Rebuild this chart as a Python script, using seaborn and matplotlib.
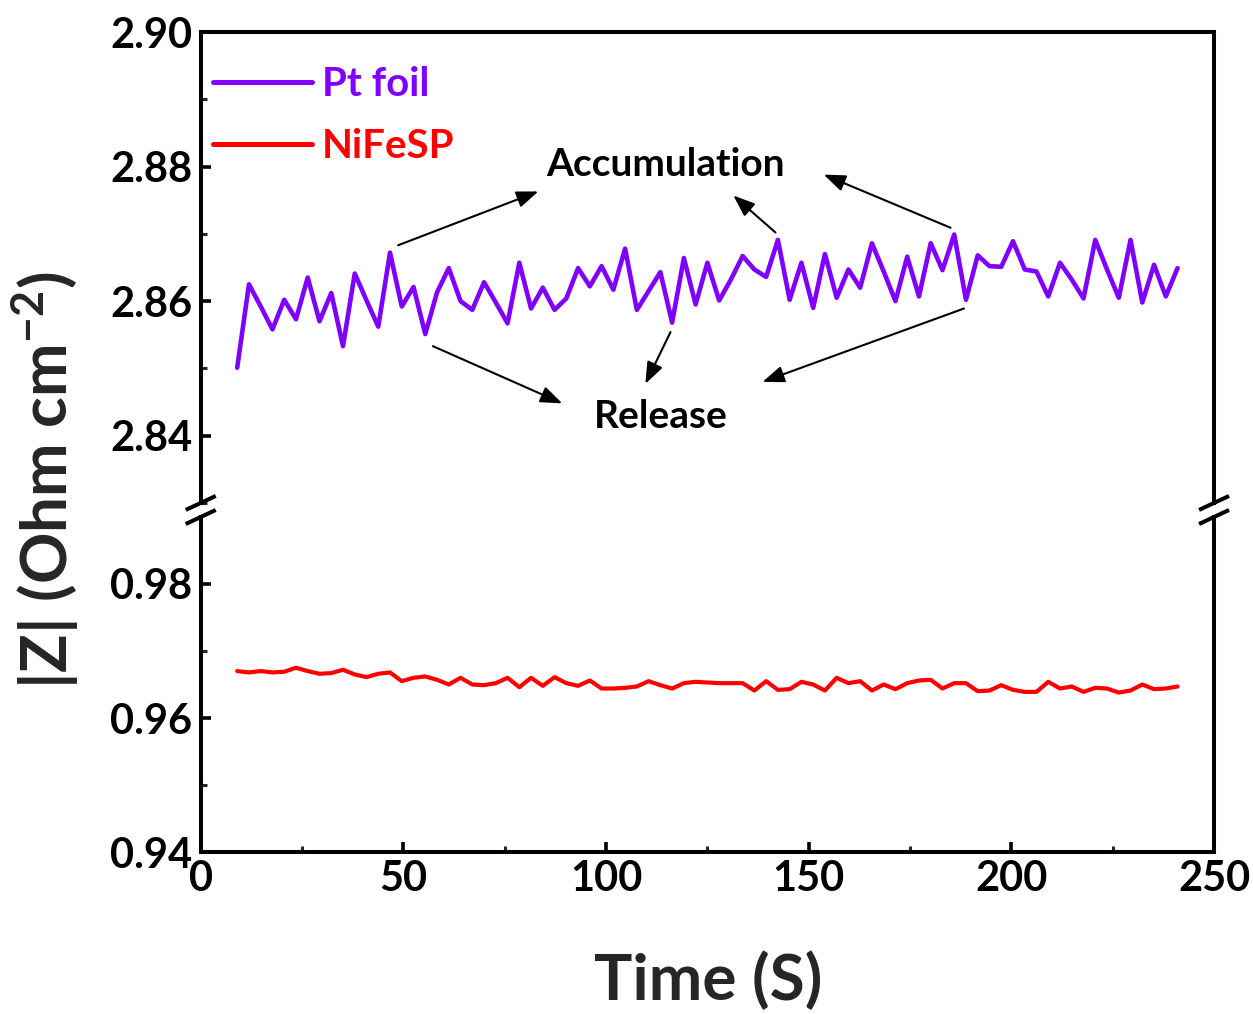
import numpy as np
import pandas as pd
import matplotlib
matplotlib.use("Agg")
import matplotlib.pyplot as plt
import seaborn as sns

# ---- data -------------------------------------------------------------
time_s = [9.0, 11.9, 14.8, 17.7, 20.6, 23.5, 26.4, 29.3, 32.2, 35.1, 38.0, 40.9,
          43.8, 46.7, 49.6, 52.5, 55.4, 58.3, 61.2, 64.1, 67.0, 69.9, 72.8, 75.7,
          78.6, 81.5, 84.4, 87.3, 90.2, 93.1, 96.0, 98.9, 101.8, 104.7, 107.6,
          110.5, 113.4, 116.3, 119.2, 122.1, 125.0, 127.9, 130.8, 133.7, 136.6,
          139.5, 142.4, 145.3, 148.2, 151.1, 154.0, 156.9, 159.8, 162.7, 165.6,
          168.5, 171.4, 174.3, 177.2, 180.1, 183.0, 185.9, 188.8, 191.7, 194.6,
          197.5, 200.4, 203.3, 206.2, 209.1, 212.0, 214.9, 217.8, 220.7, 223.6,
          226.5, 229.4, 232.3, 235.2, 238.1, 241.0]

pt_foil = [2.8501, 2.8625, 2.8592, 2.8558, 2.8602, 2.8573, 2.8635, 2.8570, 2.8612,
           2.8533, 2.8641, 2.8601, 2.8562, 2.8672, 2.8592, 2.8621, 2.8551, 2.8613,
           2.8649, 2.8600, 2.8587, 2.8628, 2.8598, 2.8567, 2.8657, 2.8589, 2.8620,
           2.8587, 2.8604, 2.8649, 2.8622, 2.8652, 2.8617, 2.8678, 2.8587, 2.8615,
           2.8643, 2.8568, 2.8664, 2.8595, 2.8657, 2.8601, 2.8632, 2.8667, 2.8647,
           2.8636, 2.8691, 2.8602, 2.8657, 2.8590, 2.8670, 2.8605, 2.8647, 2.8620,
           2.8686, 2.8644, 2.8600, 2.8666, 2.8607, 2.8686, 2.8646, 2.8699, 2.8602,
           2.8668, 2.8652, 2.8651, 2.8689, 2.8647, 2.8644, 2.8607, 2.8657, 2.8632,
           2.8604, 2.8691, 2.8647, 2.8605, 2.8691, 2.8598, 2.8654, 2.8607, 2.8649]

nifesp = [0.9670, 0.9668, 0.9670, 0.9668, 0.9669, 0.9675, 0.9670, 0.9666, 0.9667,
          0.9672, 0.9665, 0.9661, 0.9666, 0.9668, 0.9655, 0.9660, 0.9662, 0.9657,
          0.9650, 0.9660, 0.9650, 0.9649, 0.9652, 0.9660, 0.9646, 0.9660, 0.9648,
          0.9661, 0.9652, 0.9648, 0.9656, 0.9644, 0.9644, 0.9645, 0.9647, 0.9655,
          0.9649, 0.9644, 0.9652, 0.9654, 0.9653, 0.9652, 0.9652, 0.9652, 0.9641,
          0.9655, 0.9642, 0.9643, 0.9654, 0.9650, 0.9641, 0.9660, 0.9652, 0.9655,
          0.9641, 0.9650, 0.9643, 0.9652, 0.9656, 0.9657, 0.9644, 0.9652, 0.9652,
          0.9640, 0.9641, 0.9649, 0.9642, 0.9639, 0.9639, 0.9654, 0.9644, 0.9647,
          0.9639, 0.9645, 0.9644, 0.9638, 0.9641, 0.9650, 0.9643, 0.9644, 0.9647]

series_names = ["Pt foil", "NiFeSP"]
series_colors = ["#7F00FF", "#FF0000"]

x_ticks = [0, 50, 100, 150, 200, 250]
top_ticks = [2.84, 2.86, 2.88, 2.90]
bottom_ticks = [0.94, 0.96, 0.98]

# annotation arrows: (tail, head) in data coordinates of the upper panel
accum_arrows = [((48.7, 2.8683), (83.3, 2.8763)),
                ((141.8, 2.8702), (131.4, 2.8757)),
                ((185.0, 2.8709), (153.7, 2.8788))]
release_arrows = [((57.3, 2.8533), (89.2, 2.8448)),
                  ((115.9, 2.8554), (109.7, 2.8477)),
                  ((188.3, 2.8589), (138.6, 2.8480))]

# ---- style ------------------------------------------------------------
sns.set_theme(style="white")
plt.rcParams["font.family"] = ["Lato", "DejaVu Sans"]
plt.rcParams["font.weight"] = "bold"
plt.rcParams["mathtext.fontset"] = "custom"
plt.rcParams["mathtext.rm"] = "Lato:bold"
plt.rcParams["mathtext.bf"] = "Lato:bold"
plt.rcParams["mathtext.it"] = "Lato:bold"

df_pt = pd.DataFrame({"time": time_s, "z": pt_foil, "sample": series_names[0]})
df_ni = pd.DataFrame({"time": time_s, "z": nifesp, "sample": series_names[1]})

fig = plt.figure(figsize=(12.53, 10.14), dpi=100)
L, R = 0.1602, 0.9689
ax_top = fig.add_axes([L, 0.5040, R - L, 0.96844 - 0.5040])
ax_bot = fig.add_axes([L, 0.15976, R - L, 0.49014 - 0.15976])

sns.lineplot(data=df_pt, x="time", y="z", ax=ax_top, color=series_colors[0],
             linewidth=3.3, label=series_names[0], legend=False)
sns.lineplot(data=df_ni, x="time", y="z", ax=ax_bot, color=series_colors[1],
             linewidth=3.0, label=series_names[1], legend=False)

ax_top.set_ylim(2.83, 2.90)
ax_bot.set_ylim(0.94, 0.99)
for ax in (ax_top, ax_bot):
    ax.set_xlim(0, 250)
    ax.set_xlabel("")
    ax.set_ylabel("")
    for s in ax.spines.values():
        s.set_linewidth(2.9)
        s.set_color("black")
    ax.tick_params(axis="both", which="major", direction="in", length=7,
                   width=2.6, labelsize=30, pad=6, colors="black",
                   left=True, bottom=True, right=False, top=False)
    ax.tick_params(axis="both", which="minor", direction="in", length=4,
                   width=2.2, left=True, bottom=True, right=False, top=False)

ax_top.spines["bottom"].set_visible(False)
ax_bot.spines["top"].set_visible(False)
ax_top.tick_params(axis="x", which="both", bottom=False, labelbottom=False)

ax_top.set_yticks(top_ticks)
ax_top.set_yticks([2.83, 2.85, 2.87, 2.89], minor=True)
ax_top.set_yticklabels([f"{v:.2f}" for v in top_ticks])
ax_bot.set_yticks(bottom_ticks)
ax_bot.set_yticks([0.95, 0.97], minor=True)
ax_bot.set_yticklabels([f"{v:.2f}" for v in bottom_ticks])
ax_bot.set_xticks(x_ticks)
ax_bot.set_xticks([25, 75, 125, 175, 225], minor=True)
ax_bot.set_xticklabels([str(v) for v in x_ticks])
for lab in ax_top.get_yticklabels() + ax_bot.get_yticklabels() + ax_bot.get_xticklabels():
    lab.set_fontweight("bold")

# axis-break marks on both vertical spines
def break_marks(ax, y_axes):
    h = ax.get_window_extent().height
    dy = 7.0 / h
    for x0 in (0.0, 1.0):
        ax.plot([x0 - 0.0148, x0 + 0.0148], [y_axes - dy, y_axes + dy],
                transform=ax.transAxes, color="black", lw=2.9,
                clip_on=False, solid_capstyle="butt", zorder=10)

break_marks(ax_top, 0.0)
break_marks(ax_bot, 1.0)

# legend drawn inside the upper panel
handles = [ax_top.lines[0], ax_bot.lines[0]]
leg = ax_top.legend(handles, series_names, loc="upper left", frameon=False,
                    fontsize=29, handlelength=2.45, handletextpad=0.25,
                    labelspacing=0.62, borderaxespad=0.0, borderpad=0.0,
                    bbox_to_anchor=(0.012, 0.928))
for txt, col in zip(leg.get_texts(), series_colors):
    txt.set_color(col)
    txt.set_fontweight("bold")
for h in leg.legend_handles:
    h.set_linewidth(3.6)

# annotations
ax_top.text(114.6, 2.8803, "Accumulation", ha="center", va="center",
            fontsize=28, fontweight="bold", color="black")
ax_top.text(113.4, 2.8428, "Release", ha="center", va="center",
            fontsize=28, fontweight="bold", color="black")
for tail, head in accum_arrows + release_arrows:
    ax_top.annotate("", xy=head, xytext=tail,
                    arrowprops=dict(arrowstyle="-|>,head_length=1.1,head_width=0.42",
                                    color="black", lw=1.5, shrinkA=0, shrinkB=0))

fig.text(0.5650, 0.0335, "Time (S)", ha="center", va="center",
         fontsize=46, fontweight="bold")
fig.text(0.036, 1 - 480 / 1014, r"|Z| (Ohm cm$^{-2}$)", ha="center",
         va="center", rotation=90, fontsize=46, fontweight="bold")

fig.savefig("out.png", dpi=100, facecolor="white")
